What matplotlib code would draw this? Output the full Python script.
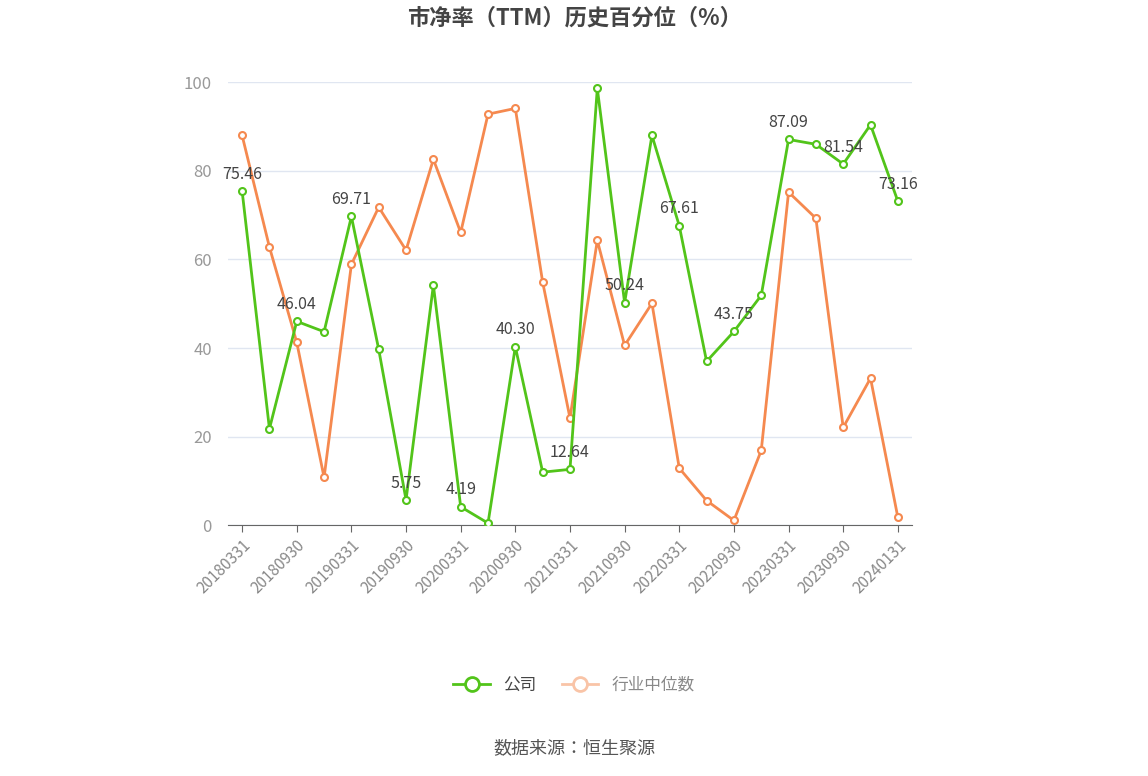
import matplotlib
matplotlib.use("Agg")
import matplotlib.pyplot as plt
from matplotlib.lines import Line2D
from matplotlib import font_manager as fm

cjk = None
for f in fm.fontManager.ttflist:
    if "CJK SC" in f.name or ("CJK" in f.name and cjk is None):
        cjk = f.name
        if "SC" in f.name:
            break
plt.rcParams["font.family"] = [cjk or "Noto Sans CJK SC", "DejaVu Sans"]

dates = ["20180331","20180630","20180930","20181231","20190331","20190630","20190930","20191231",
         "20200331","20200630","20200930","20201231","20210331","20210630","20210930","20211231",
         "20220331","20220630","20220930","20221231","20230331","20230630","20230930","20231231","20240131"]
company = [75.46,21.8,46.04,43.7,69.71,39.7,5.75,54.2,4.19,0.5,40.30,12.0,12.64,98.6,50.24,88.0,
           67.61,37.0,43.75,51.9,87.09,86.0,81.54,90.4,73.16]
industry = [88.0,62.8,41.3,10.8,58.9,71.8,62.1,82.6,66.1,92.8,94.1,54.9,24.2,64.3,40.6,50.1,
            12.9,5.6,1.1,16.9,75.2,69.3,22.1,33.2,1.8]

green = "#52c41a"
orange = "#f5894f"

fig = plt.figure(figsize=(11.48, 7.76), dpi=100)
ax = fig.add_axes([0.199, 0.323, 0.595, 0.571])
x = list(range(len(dates)))
ax.plot(x, industry, color=orange, lw=2, marker="o", ms=5, mfc="white", mec=orange, mew=1.5, zorder=3)
ax.plot(x, company, color=green, lw=2, marker="o", ms=5, mfc="white", mec=green, mew=1.5, zorder=4)
for i in range(0, len(dates), 2):
    ax.annotate(f"{company[i]:.2f}", (i, company[i]), xytext=(0, 6), textcoords="offset points",
                ha="center", va="bottom", fontsize=11.5, color="#444444", zorder=5)

ax.set_xlim(-0.5, len(dates) - 0.5)
ax.set_ylim(0, 100)
ax.set_yticks([0, 20, 40, 60, 80, 100])
ax.set_xticks(x[::2])
ax.set_xticklabels(dates[::2], rotation=45, ha="right", rotation_mode="anchor", fontsize=11, color="#888888")
ax.tick_params(axis="y", length=0, labelsize=12, labelcolor="#999999", pad=12)
ax.tick_params(axis="x", length=5, color="#666666")
ax.grid(axis="y", color="#e0e6f1", lw=1)
for s in ["top", "right", "left"]:
    ax.spines[s].set_visible(False)
ax.spines["bottom"].set_color("#666666")
ax.set_axisbelow(True)

fig.text(0.5, 0.977, "市净率（TTM）历史百分位（%）", ha="center", va="center", fontsize=16,
         fontweight="bold", color="#444444")
handles = [Line2D([], [], color=green, lw=2, marker="o", ms=10, mfc="white", mew=2),
           Line2D([], [], color="#f9c4a7", lw=2, marker="o", ms=10, mfc="white", mew=2)]
leg = fig.legend(handles, ["公司", "行业中位数"], loc="center", bbox_to_anchor=(0.5, 0.117), ncol=2,
                 frameon=False, fontsize=12, handlelength=2.2, columnspacing=1.5)
leg.get_texts()[1].set_color("#888888")
leg.get_texts()[0].set_color("#444444")
fig.text(0.5, 0.036, "数据来源：恒生聚源", ha="center", va="center", fontsize=13, color="#555555")
fig.savefig("out.png", dpi=100)
